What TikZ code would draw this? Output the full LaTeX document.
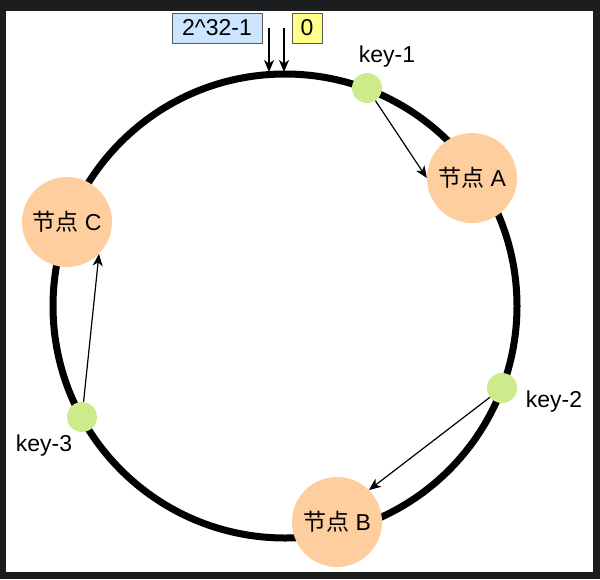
\documentclass[tikz,border=0pt]{standalone}
\usepackage{fontspec}
\setmainfont{Liberation Sans}
\newfontfamily\cjk{Noto Sans CJK SC}
\usetikzlibrary{arrows.meta}

\definecolor{framegray}{HTML}{1C1D1F}
\definecolor{peach}{HTML}{FFCE9F}
\definecolor{keygreen}{HTML}{CDEB8B}
\definecolor{hashblue}{HTML}{CCE5FF}
\definecolor{hashyellow}{HTML}{FFFF88}

\begin{document}
\begin{tikzpicture}[x=1pt, y=-1pt, font=\fontsize{23}{27}\selectfont,
    server/.style={circle, fill=peach, minimum size=90pt, inner sep=0pt},
    keydot/.style={circle, fill=keygreen, minimum size=30pt, inner sep=0pt},
    valbox/.style={draw=gray!70!black, line width=1pt, inner sep=0pt, minimum height=30pt},
    link/.style={-{Stealth[length=12pt, width=10pt, inset=3.5pt]}, line width=1.2pt}]

% Frame
\fill[framegray] (0,0) rectangle (600,579);
\fill[white] (6,11) rectangle (593,572);
\useasboundingbox (0,0) rectangle (600,579);

% Hash ring
\coordinate (o) at (285,306);
\draw[line width=7pt] (o) circle (232pt);

% Ends of the range
\node[valbox, fill=hashblue, minimum width=90pt] (max) at (217,28) {2\textasciicircum 32-1};
\node[valbox, fill=hashyellow, minimum width=30pt] (zero) at (307,28) {0};
\coordinate (maxtail) at (269,28);
\coordinate (maxhead) at (269,72);
\coordinate (zerotail) at (284,28);
\coordinate (zerohead) at (284,72);
\draw[link] (maxtail) -- (maxhead);
\draw[link] (zerotail) -- (zerohead);

% Servers
\node[server] (A) at (472,178) {{\cjk 节点} A};
\node[server] (B) at (337,522) {{\cjk 节点} B};
\node[server] (C) at (67,222) {{\cjk 节点} C};

% Keys
\foreach \i/\p/\q in {1/{367,88}/{387,57}, 2/{502,388}/{554,402}, 3/{82,417}/{44,446}}
{
    \node[keydot] (k\i) at (\p) {};
    \node (lab\i) at (\q) {key-\i};
}

% Keys go clockwise to the next server
\draw[link] (k1) -- (A.west);
\draw[link] (k2) -- (B.north east);
\draw[link] (k3) -- (C.south east);

\end{tikzpicture}
\end{document}
